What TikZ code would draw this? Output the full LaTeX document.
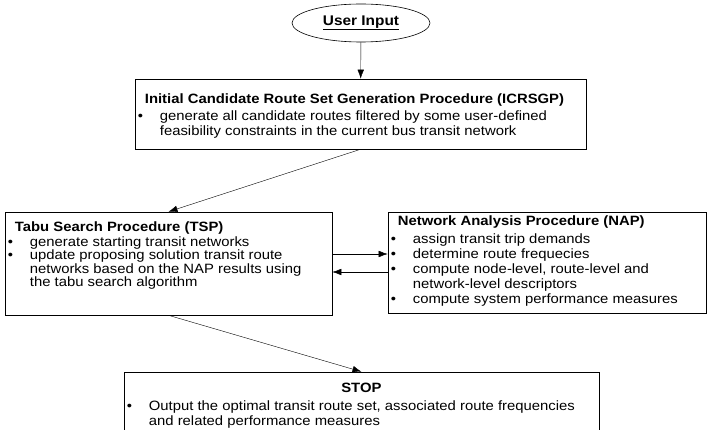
\documentclass[tikz,border=0pt]{standalone}
\usepackage{fontspec}
\setmainfont[FakeStretch=1.1]{Liberation Sans}
\usetikzlibrary{shapes.geometric,arrows.meta}
\newcommand{\bul}{\makebox[22pt][l]{\textbullet}}
\newcommand{\cont}{\hspace*{22pt}}
\newcommand{\head}[1]{\hspace*{7pt}\textbf{#1}}

\begin{document}
\begin{tikzpicture}[x=1pt,y=1pt,
    box/.style={draw, line width=0.6pt, inner sep=0pt},
    txt/.style={anchor=north west, inner sep=0pt, align=left,
      font=\fontsize{13.5}{#1}\selectfont},
    >={Latex[length=9pt,width=6.5pt]}]
        \useasboundingbox (0,0) rectangle (707,-430);
        \clip (0,0) rectangle (707,-430);

        \node[draw, ellipse, line width=0.6pt, minimum width=138pt, minimum height=38pt,
          font=\fontsize{14}{15}\selectfont] (1) at (361,-23) {\underline{\textbf{User Input}}};

        % boxes
        \node[box, minimum width=451pt, minimum height=70pt] (2) at (360.5,-114) {};
        \node[box, minimum width=327pt, minimum height=103pt] (3) at (168.5,-263.5) {};
        \node[box, minimum width=318pt, minimum height=101pt] (4) at (547,-262.5) {};
        \node[box, minimum width=475pt, minimum height=80pt] (5) at (361.5,-412) {};

        % texts
        \node[txt=15.5] (2t) at ([xshift=3pt,yshift=-14.5pt]2.north west)
          {\head{Initial Candidate Route Set Generation Procedure (ICRSGP)}\\[1.5pt]
           \bul generate all candidate routes filtered by some user-defined\\
           \cont feasibility constraints in the current bus transit network};
        \node[txt=13.5] (3t) at ([xshift=3pt,yshift=-10pt]3.north west)
          {\head{Tabu Search Procedure (TSP)}\\[1pt]
           \bul generate starting transit networks\\
           \bul update proposing solution transit route\\
           \cont networks based on the NAP results using\\
           \cont the tabu search algorithm};
        \node[txt=15] (4t) at ([xshift=3pt,yshift=-4pt]4.north west)
          {\head{Network Analysis Procedure (NAP)}\\[3pt]
           \bul assign transit trip demands\\
           \bul determine route frequecies\\
           \bul compute node-level, route-level and\\
           \cont network-level descriptors\\
           \bul compute system performance measures};
        \node[txt=15] (5t) at ([xshift=3pt,yshift=-11pt]5.north west)
          {\makebox[469pt]{\textbf{STOP}}\\[3pt]
           \bul Output the optimal transit route set, associated route frequencies\\
           \cont and related performance measures};

        \draw[->] (1) -- (2);
        \draw[->] (2.south) -- (3.north);
        \draw[->] ([yshift=9.5pt]3.east) -- ([yshift=9.5pt]3.east -| 4.west);
        \draw[<-] ([yshift=-8.5pt]3.east) -- ([yshift=-8.5pt]3.east -| 4.west);
        \draw[->] (3.south) -- (5.north);
\end{tikzpicture}
\end{document}
